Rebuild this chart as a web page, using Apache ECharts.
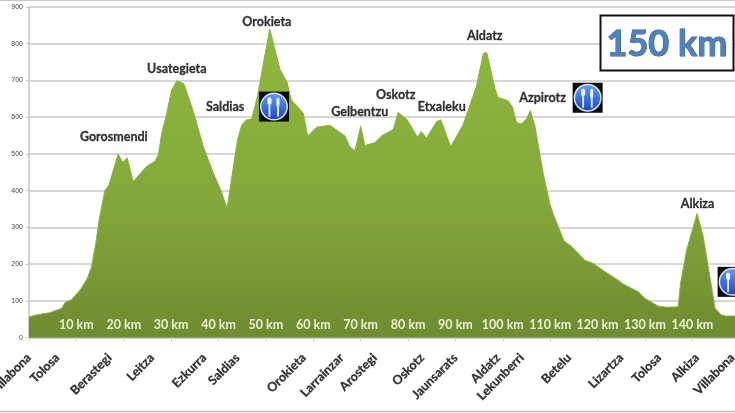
<!DOCTYPE html>
<html>
<head>
<meta charset="utf-8">
<style>
  html, body { margin: 0; padding: 0; background: #fff; overflow: hidden; }
  #chart { width: 735px; height: 413px; }
</style>
<script src="https://cdn.jsdelivr.net/npm/echarts@6/dist/echarts.min.js"></script>
</head>
<body>
<div id="chart"></div>
<script>
  // perfil: km / altura
  const kms = [0, 2, 4.4, 6.9, 7.6, 9, 10.8, 12.3, 13.2, 14.1, 14.8, 16, 16.9, 18.8, 19.8, 20.7, 22, 24.8, 26.6, 27.3, 28, 29, 30.1, 31.2, 32.7, 34.8, 36.8, 38.9, 40.6, 41.8, 44, 44.9, 45.9, 47, 48.2, 50.8, 53, 54.4, 55.4, 57.9, 58.8, 60.7, 63.5, 66.7, 67.7, 68.8, 70, 70.9, 73, 74.4, 76.9, 77.9, 79.7, 82, 82.8, 83.9, 86, 86.9, 89, 91.6, 94.4, 95.9, 96.6, 97.3, 98.3, 99, 101.1, 102, 102.9, 103.9, 105, 105.8, 106.8, 108.5, 109.9, 110.6, 111.7, 112.9, 114.5, 117.3, 119.1, 121.5, 124.3, 125.4, 128.6, 130, 132.8, 134.5, 137, 137.5, 138.8, 139.8, 141, 142.3, 143.7, 144.8, 146.1, 147.2, 149];
  const heights = [57, 63, 68, 80, 96, 104, 130, 161, 193, 257, 320, 400, 416, 500, 477, 490, 425, 466, 480, 497, 556, 606, 674, 699, 691, 611, 520, 448, 398, 352, 538, 579, 593, 595, 656, 840, 729, 697, 647, 611, 549, 573, 578, 549, 520, 509, 575, 523, 531, 549, 567, 613, 595, 546, 561, 543, 588, 593, 520, 579, 683, 774, 776, 738, 679, 654, 645, 629, 585, 582, 595, 618, 575, 448, 366, 338, 302, 264, 248, 211, 202, 180, 157, 146, 125, 107, 86, 83, 84, 148, 239, 284, 338, 275, 166, 80, 62, 59, 59];

  const townNames = ['Villabona', 'Tolosa', 'Berastegi', 'Leitza', 'Ezkurra', 'Saldias', 'Orokieta', 'Larrainzar', 'Arostegi', 'Oskotz', 'Jaunsarats', 'Aldatz', 'Lekunberri', 'Betelu', 'Lizartza', 'Tolosa', 'Alkiza', 'Villabona'];
  const townKms = [0, 6, 17, 26, 37, 44, 58, 66, 73, 83, 90, 99, 104, 114, 125, 133, 141, 148.5];

  const peakNames = ['Gorosmendi', 'Usategieta', 'Saldias', 'Orokieta', 'Gelbentzu', 'Oskotz', 'Etxaleku', 'Aldatz', 'Azpirotz', 'Alkiza'];
  const peakKms = [17.9, 31.2, 41.4, 50.2, 69.8, 77.4, 87.1, 96.2, 108.4, 141.1];
  const peakHeights = [547, 732, 629, 860, 615, 661, 629, 822, 653, 364];

  // jatetxeak
  const foodKms = [51.7, 117.9, 148.5];
  const foodHeights = [629, 653, 152];

  const font = 'Lato, "Noto Sans", sans-serif';
  const chart = echarts.init(document.getElementById('chart'));

  function foodIcon(params, api) {
    const p = api.coord([api.value(0), api.value(1)]);
    const cx = p[0], cy = p[1];
    const white = { fill: '#eef4ff' };
    const children = [
      { type: 'rect', shape: { x: cx - 15, y: cy - 15, width: 30, height: 30 }, style: { fill: '#0a0a0a' } },
      { type: 'circle', shape: { cx, cy, r: 14 }, style: { fill: '#d8e4f8' } },
      { type: 'circle', shape: { cx, cy, r: 12.5 }, style: {
        fill: new echarts.graphic.LinearGradient(0, 0, 0, 1, [
          { offset: 0, color: '#5f9cf0' },
          { offset: 1, color: '#1c47c8' }
        ]) } },
      // tenedor
      { type: 'rect', shape: { x: cx - 6.5, y: cy - 9, width: 4, height: 7, r: 1.5 }, style: white },
      { type: 'rect', shape: { x: cx - 5.4, y: cy - 4, width: 1.8, height: 14 }, style: white },
      // cuchillo
      { type: 'rect', shape: { x: cx + 2.5, y: cy - 9, width: 3, height: 9, r: 1.5 }, style: white },
      { type: 'rect', shape: { x: cx + 3.2, y: cy - 2, width: 1.8, height: 12 }, style: white }
    ];
    return { type: 'group', children };
  }

  chart.setOption({
    animation: false,
    backgroundColor: '#fff',
    grid: { left: 29, top: 7, width: 706, height: 330.7, containLabel: false, outerBoundsMode: 'none' },
    xAxis: {
      type: 'value',
      min: 0,
      max: 149,
      interval: 10,
      splitLine: { show: false },
      axisLine: { show: false },
      axisTick: { show: true, length: 4, lineStyle: { color: '#d0d0d0', width: 1 } },
      axisLabel: {
        inside: true,
        margin: 6,
        color: '#eaf2d4',
        fontFamily: font,
        fontWeight: 'bold',
        fontSize: 12.5,
        formatter: v => (v === 0 || v === 149 ? '' : v + ' km')
      },
      z: 5
    },
    yAxis: {
      type: 'value',
      min: 0,
      max: 900,
      interval: 100,
      axisLine: { show: true, lineStyle: { color: '#c4c4c4', width: 1.5 } },
      axisTick: { show: true, length: 3, lineStyle: { color: '#c4c4c4' } },
      axisLabel: { color: '#444', fontSize: 7, margin: 6, fontFamily: 'Liberation Sans, sans-serif' },
      splitLine: { lineStyle: { color: '#c9c9c9', width: 1.5 } }
    },
    series: [
      {
        type: 'line',
        data: kms.map((k, i) => [k, heights[i]]),
        symbol: 'none',
        smooth: false,
        lineStyle: { color: '#8ab33e', width: 1 },
        areaStyle: {
          opacity: 1,
          color: new echarts.graphic.LinearGradient(0, 0, 0, 1, [
            { offset: 0, color: '#8fb83f' },
            { offset: 0.55, color: '#84a83b' },
            { offset: 1, color: '#6e8b31' }
          ])
        },
        z: 2
      },
      {
        type: 'scatter',
        data: townKms.map((k, i) => ({ value: [k, 0], name: townNames[i] })),
        symbolSize: 0,
        silent: true,
        label: {
          show: true,
          formatter: '{b}',
          position: [0, 18],
          rotate: 45,
          align: 'right',
          verticalAlign: 'middle',
          color: '#000',
          textBorderColor: '#222',
          textBorderWidth: 0.3,
          fontFamily: font,
          fontWeight: 'bold',
          fontSize: 12.5
        },
        z: 6
      },
      {
        type: 'scatter',
        data: peakKms.map((k, i) => ({ value: [k, peakHeights[i]], name: peakNames[i] })),
        symbolSize: 0,
        silent: true,
        label: {
          show: true,
          formatter: '{b}',
          position: 'inside',
          color: '#000',
          textBorderColor: '#222',
          textBorderWidth: 0.3,
          fontFamily: font,
          fontWeight: 'bold',
          fontSize: 12.5
        },
        z: 6
      },
      {
        type: 'custom',
        data: foodKms.map((k, i) => [k, foodHeights[i]]),
        renderItem: foodIcon,
        clip: false,
        silent: true,
        z: 7
      }
    ],
    graphic: [
      // marco de la imagen
      { type: 'line', shape: { x1: 0, y1: 0.5, x2: 735, y2: 0.5 }, style: { stroke: '#c8c8c8', lineWidth: 1 } },
      { type: 'line', shape: { x1: 0, y1: 411.5, x2: 735, y2: 411.5 }, style: { stroke: '#c0c0c0', lineWidth: 1.5 } },
      {
        type: 'rect',
        shape: { x: 600.5, y: 15.5, width: 133, height: 55 },
        style: { fill: '#fff', stroke: '#111', lineWidth: 2 },
        z: 20
      },
      {
        type: 'text',
        x: 667,
        y: 44,
        z: 21,
        style: {
          text: '150 km',
          fontFamily: font,
          fontWeight: 'bold',
          fontSize: 36,
          fill: '#4f81bd',
          stroke: '#33597f',
          lineWidth: 1,
          align: 'center',
          verticalAlign: 'middle'
        }
      }
    ]
  });
</script>
</body>
</html>
